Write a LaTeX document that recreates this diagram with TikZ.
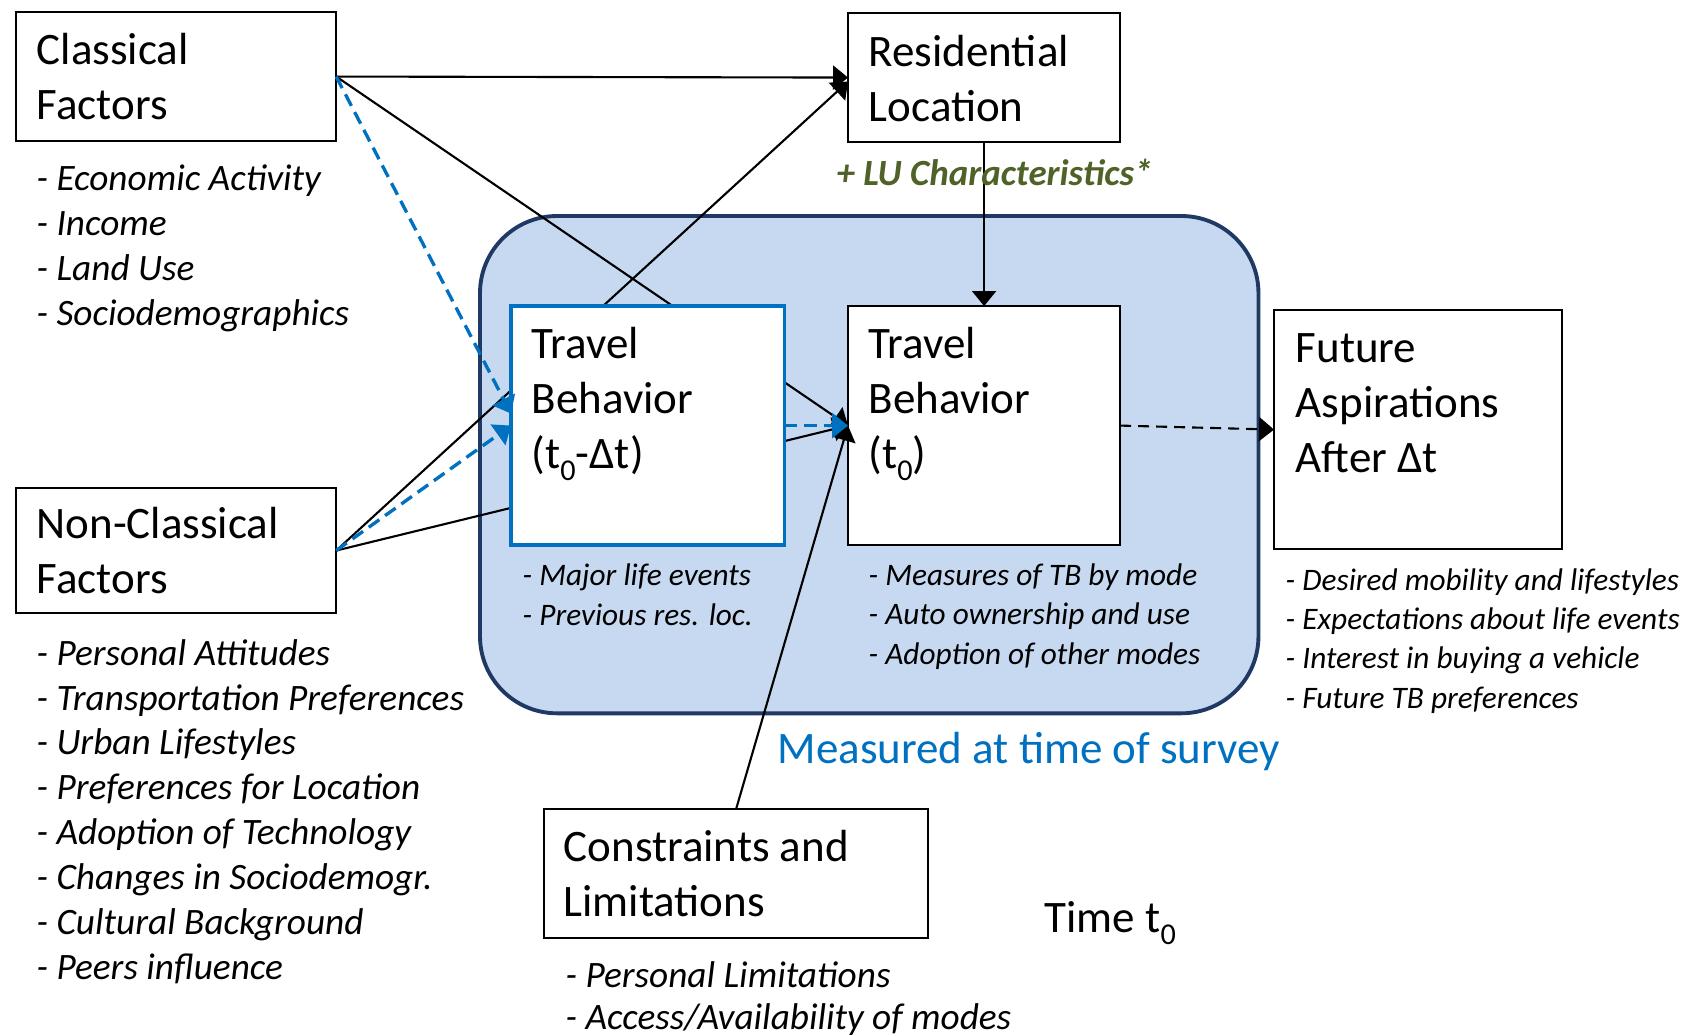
\documentclass[tikz,border=0pt]{standalone}
\usepackage{fontspec}
\setmainfont{Carlito}
\usepackage{tikz}
\usetikzlibrary{arrows.meta}

\definecolor{surveyfill}{HTML}{C6D9F1}
\definecolor{surveyline}{HTML}{1F3864}
\definecolor{tbblue}{HTML}{0070C0}
\definecolor{lugreen}{HTML}{4F6228}

\newcommand{\tzero}{t\raisebox{-0.28em}{\fontsize{8.6}{8.6}\selectfont 0}}

\begin{document}
\begin{tikzpicture}[x=0.01cm, y=-0.01cm,
    box/.style={draw, fill=white, line width=0.6pt, anchor=north west, inner sep=0pt, outer sep=0pt},
    boxtext/.style={anchor=base west, align=left, inner sep=0pt, font=\fontsize{12.8}{15.6}\selectfont},
    bigitems/.style={anchor=base west, align=left, inner sep=0pt, font=\fontsize{10.6}{12.75}\selectfont\itshape},
    smallitems/.style={anchor=base west, align=left, inner sep=0pt, font=\fontsize{8.9}{11.1}\selectfont\itshape},
    link/.style={line width=0.6pt, -{Triangle[width=0.24cm,length=0.15cm]}},
    bluelink/.style={tbblue, line width=0.95pt, dash pattern=on 0.13cm off 0.07cm, -{Triangle[width=0.25cm,length=0.16cm]}},
    futurelink/.style={link, dash pattern=on 0.11cm off 0.07cm}]
\useasboundingbox (0,0) rectangle (1695,1035);

\node[draw=surveyline, fill=surveyfill, line width=1.1pt, rounded corners=0.77cm, anchor=north west,
    inner sep=0pt, outer sep=0pt, minimum width=7.78cm, minimum height=4.97cm] (survey) at (480,216) {};

\node[box, minimum width=3.20cm, minimum height=1.29cm] (classical) at (16,12) {};
\node[box, minimum width=3.20cm, minimum height=1.25cm] (nonclass) at (16,488) {};
\node[box, minimum width=2.72cm, minimum height=1.29cm] (resid) at (848,13) {};
\node[box, minimum width=2.72cm, minimum height=2.39cm] (tbnow) at (848,306) {};
\node[box, minimum width=2.88cm, minimum height=2.39cm] (future) at (1274,310) {};
\node[box, minimum width=3.84cm, minimum height=1.29cm] (constr) at (544,809) {};

\draw[link] (classical.east) -- (tbnow.west);
\draw[link] (nonclass.east) -- ([yshift=-0.04cm]resid.west);
\draw[link] (nonclass.east) -- (tbnow.west);

\node[box, draw=tbblue, line width=0.95pt, minimum width=2.73cm, minimum height=2.39cm] (tbprev) at (511,306) {};

\draw[link] (classical.east) -- (resid.west);
\draw[link] (resid.south) -- (tbnow.north);
\draw[link] (constr.north) -- (tbnow.west);
\draw[bluelink] (classical.east) -- ([yshift=0.12cm]tbprev.west);
\draw[bluelink] (nonclass.east) -- (tbprev.west);
\draw[bluelink] (tbprev.east) -- (tbnow.west);
\draw[futurelink] (tbnow.east) -- (future.west);

\node[boxtext] (classicalT) at (36,119) {Classical\\Factors};
\node[boxtext] (nonclassT) at (36,593) {Non-Classical\\Factors};
\node[boxtext] (residT) at (868,121) {Residential\\Location};
\node[boxtext] (tbprevT) at (531,468) {Travel\\Behavior\\(\tzero-Δt)};
\node[boxtext] (tbnowT) at (868,468) {Travel\\Behavior\\(\tzero)};
\node[boxtext] (futureT) at (1295,472) {Future\\Aspirations\\After Δt};
\node[boxtext] (constrT) at (563,916) {Constraints and\\Limitations};
\node[boxtext] (timeT) at (1044,932) {Time \tzero};
\node[boxtext, text=tbblue] (surveyT) at (777,763) {Measured at time of survey};
\node[anchor=base west, inner sep=0pt, text=lugreen, font=\fontsize{10.5}{12.6}\selectfont\bfseries\itshape] (luT) at (836,185) {+ LU Characteristics*};

\node[bigitems] (classicalL) at (36,325) {- Economic Activity\\- Income\\- Land Use\\- Sociodemographics};
\node[bigitems] (nonclassL) at (36,979) {- Personal Attitudes\\- Transportation Preferences\\- Urban Lifestyles\\- Preferences for Location\\- Adoption of Technology\\- Changes in Sociodemogr.\\- Cultural Background\\- Peers influence};
\node[smallitems] (tbprevL) at (522,625) {- Major life events\\- Previous res. loc.};
\node[smallitems] (tbnowL) at (868,664) {- Measures of TB by mode\\- Auto ownership and use\\- Adoption of other modes};
\node[smallitems] (futureL) at (1285,708) {- Desired mobility and lifestyles\\- Expectations about life events\\- Interest in buying a vehicle\\- Future TB preferences};
\node[bigitems, font=\fontsize{10.6}{11.7}\selectfont\itshape] (constrL) at (565,1029) {- Personal Limitations\\- Access/Availability of modes};

\end{tikzpicture}
\end{document}
